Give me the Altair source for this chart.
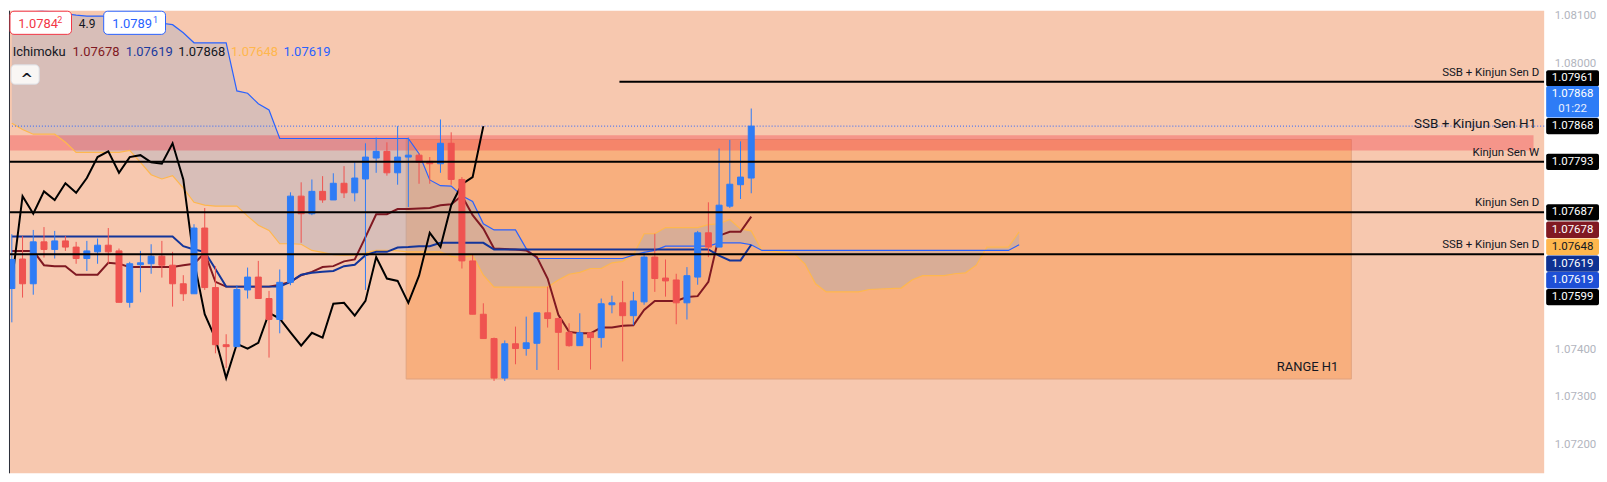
import altair as alt
import pandas as pd

# ---------------- data (EURUSD-like H1 candles, Ichimoku) ----------------
opens = [1.07527,1.07589,1.07537,1.07625,1.07609,1.07627,1.07614,1.07590,1.07604,1.07618,
         1.07606,1.07498,1.07577,1.07579,1.07595,1.07576,1.07537,1.07516,1.07654,1.07529,
         1.07409,1.07405,1.07524,1.07551,1.07506,1.07462,1.07540,1.07721,1.07684,1.07731,
         1.07713,1.07748,1.07728,1.07757,1.07801,1.07815,1.07770,1.07803,1.07807,1.07794,
         1.07789,1.07832,1.07756,1.07585,1.07473,1.07422,1.07339,1.07411,1.07401,1.07412,
         1.07476,1.07464,1.07435,1.07407,1.07434,1.07424,1.07493,1.07497,1.07470,1.07499,
         1.07593,1.07549,1.07545,1.07497,1.07551,1.07644,1.07614,1.07700,1.07745,1.07759]
highs = [1.07641,1.07637,1.07650,1.07656,1.07648,1.07637,1.07625,1.07627,1.07632,1.07654,
         1.07611,1.07583,1.07606,1.07620,1.07627,1.07604,1.07555,1.07662,1.07696,1.07574,
         1.07431,1.07534,1.07571,1.07585,1.07522,1.07567,1.07729,1.07750,1.07756,1.07763,
         1.07769,1.07784,1.07792,1.07832,1.07844,1.07834,1.07868,1.07844,1.07811,1.07803,
         1.07882,1.07855,1.07761,1.07598,1.07496,1.07424,1.07418,1.07447,1.07468,1.07476,
         1.07531,1.07466,1.07454,1.07475,1.07434,1.07506,1.07512,1.07543,1.07520,1.07604,
         1.07642,1.07588,1.07558,1.07572,1.07648,1.07708,1.07821,1.07839,1.07836,1.07905]
lows = [1.07456,1.07508,1.07514,1.07592,1.07590,1.07606,1.07579,1.07564,1.07579,1.07579,
        1.07498,1.07487,1.07519,1.07558,1.07550,1.07489,1.07501,1.07516,1.07524,1.07391,
        1.07360,1.07405,1.07506,1.07506,1.07382,1.07433,1.07534,1.07623,1.07681,1.07707,
        1.07713,1.07717,1.07710,1.07524,1.07770,1.07764,1.07745,1.07698,1.07747,1.07747,
        1.07770,1.07745,1.07569,1.07473,1.07422,1.07333,1.07333,1.07368,1.07386,1.07356,
        1.07445,1.07356,1.07405,1.07407,1.07357,1.07403,1.07475,1.07374,1.07450,1.07493,
        1.07520,1.07510,1.07452,1.07462,1.07535,1.07593,1.07614,1.07696,1.07715,1.07727]
closes = [1.07588,1.07537,1.07625,1.07609,1.07627,1.07614,1.07590,1.07606,1.07618,1.07604,
          1.07498,1.07579,1.07581,1.07595,1.07576,1.07537,1.07516,1.07654,1.07529,1.07409,
          1.07405,1.07525,1.07551,1.07506,1.07462,1.07540,1.07721,1.07684,1.07731,1.07713,
          1.07748,1.07728,1.07759,1.07803,1.07815,1.07770,1.07803,1.07807,1.07792,1.07789,
          1.07832,1.07756,1.07585,1.07473,1.07422,1.07339,1.07411,1.07401,1.07413,1.07476,
          1.07464,1.07435,1.07407,1.07434,1.07424,1.07495,1.07497,1.07470,1.07501,1.07593,
          1.07548,1.07543,1.07497,1.07554,1.07644,1.07614,1.07702,1.07746,1.07761,1.07868]

tenkan = [1.07606,1.07606,1.07606,1.07576,1.07574,1.07574,1.07556,1.07556,1.07556,1.07581,
          1.07579,1.07572,1.07572,1.07572,1.07572,1.07572,1.07576,1.07579,1.07602,1.07541,
          1.07531,1.07531,1.07531,1.07531,1.07531,1.07535,1.07541,1.07555,1.07562,1.07572,
          1.07574,1.07584,1.07588,1.07635,1.07683,1.07683,1.07694,1.07694,1.07695,1.07696,
          1.07702,1.07704,1.07722,1.07681,1.07653,1.07611,1.07610,1.07609,1.07607,1.07593,
          1.07548,1.07472,1.07436,1.07433,1.07433,1.07445,1.07445,1.07449,1.07450,1.07482,
          1.07501,1.07501,1.07501,1.07509,1.07511,1.07541,1.07638,1.07646,1.07646,1.07678]
kijun = [1.07636,1.07636,1.07636,1.07636,1.07636,1.07636,1.07636,1.07636,1.07636,1.07636,
         1.07636,1.07636,1.07636,1.07636,1.07636,1.07636,1.07616,1.07609,1.07604,1.07568,
         1.07531,1.07531,1.07531,1.07531,1.07531,1.07531,1.07541,1.07556,1.07560,1.07562,
         1.07564,1.07574,1.07577,1.07597,1.07604,1.07604,1.07613,1.07614,1.07616,1.07616,
         1.07623,1.07623,1.07623,1.07623,1.07623,1.07609,1.07609,1.07609,1.07609,1.07609,
         1.07609,1.07609,1.07609,1.07609,1.07609,1.07609,1.07609,1.07609,1.07609,1.07609,
         1.07609,1.07609,1.07609,1.07609,1.07609,1.07609,1.07596,1.07586,1.07586,1.07619]
# leading spans, already displaced forward (95 bar slots)
span_a = [1.07874,1.07861,1.07851,1.07851,1.07851,1.07834,1.07813,1.07813,1.07813,1.07813,
          1.07813,1.07817,1.07792,1.07766,1.07757,1.07764,1.07738,1.07708,1.07702,1.07700,
          1.07700,1.07700,1.07679,1.07660,1.07649,1.07621,1.07621,1.07620,1.07607,1.07603,
          1.07598,1.07597,1.07597,1.07602,1.07607,1.07607,1.07606,1.07604,1.07604,1.07604,
          1.07604,1.07595,1.07592,1.07597,1.07555,1.07530,1.07530,1.07530,1.07530,1.07530,
          1.07530,1.07545,1.07557,1.07561,1.07569,1.07569,1.07581,1.07584,1.07598,1.07642,
          1.07642,1.07655,1.07655,1.07655,1.07655,1.07661,1.07663,1.07672,1.07652,1.07648,
          1.07607,1.07605,1.07603,1.07600,1.07579,1.07537,1.07520,1.07520,1.07520,1.07520,
          1.07525,1.07526,1.07527,1.07528,1.07545,1.07554,1.07554,1.07554,1.07558,1.07560,
          1.07576,1.07614,1.07614,1.07614,1.07646]
span_b = [1.08122,1.08119,1.08114,1.08110,1.08107,1.08104,1.08101,1.08099,1.08099,1.08099,
          1.08097,1.08094,1.08090,1.08087,1.08084,1.08081,1.08064,1.08043,1.08043,1.08043,
          1.08043,1.07942,1.07937,1.07915,1.07902,1.07842,1.07842,1.07842,1.07842,1.07842,
          1.07842,1.07842,1.07842,1.07842,1.07842,1.07842,1.07842,1.07842,1.07810,1.07755,
          1.07743,1.07742,1.07722,1.07710,1.07663,1.07650,1.07650,1.07650,1.07611,1.07590,
          1.07590,1.07590,1.07590,1.07590,1.07590,1.07590,1.07590,1.07590,1.07597,1.07603,
          1.07607,1.07616,1.07616,1.07616,1.07616,1.07616,1.07623,1.07623,1.07623,1.07619,
          1.07607,1.07607,1.07607,1.07607,1.07607,1.07607,1.07607,1.07607,1.07607,1.07607,
          1.07607,1.07607,1.07607,1.07607,1.07607,1.07607,1.07607,1.07607,1.07607,1.07607,
          1.07607,1.07607,1.07607,1.07607,1.07619]
LAGGING_SHIFT = 25

level_prices = [1.07961, 1.07793, 1.07687, 1.07599]
level_starts = [56.7, None, None, None]
level_labels = ["SSB + Kinjun Sen D", "Kinjun Sen W", "Kinjun Sen D", "SSB + Kinjun Sen D"]
h1_label = "SSB + Kinjun Sen H1"

band_top, band_bottom, band_start, band_end = 1.07849, 1.07817, -5.0, 142.0
range_top, range_bottom, range_start, range_end = 1.07840, 1.07337, 36.8, 125.0
range_label = "RANGE H1"

tag_prices = [1.07961, 1.07868, 1.07793, 1.07687, 1.07678, 1.07648, 1.07619, 1.07619, 1.07599]
tag_fills = ["#000000", "#000000", "#000000", "#000000", "#801922", "#FFB74D", "#0E3192", "#1E4FD6", "#000000"]
tag_text_colors = ["#FFFFFF", "#FFFFFF", "#FFFFFF", "#FFFFFF", "#FFFFFF", "#131722", "#FFFFFF", "#FFFFFF", "#FFFFFF"]
countdown = "01:22"

# axis labels that are not hidden behind the price tags
y_ticks = [1.072, 1.073, 1.074, 1.080, 1.081]

# ---------------- layout / style ----------------
W, H = 1540, 464
X_DOM = [0.2, 142.53]
Y_DOM = [1.071391, 1.081103]
PX = (Y_DOM[1] - Y_DOM[0]) / H          # price per pixel
tag_shift_px = [-3.5, 0, 0, 0, 13.2, 15.9, 19.0, 35.6, 43.0]   # label collision offsets
countdown_shift_px = -24.5

UP, DOWN = "#2E7CF6", "#EF5350"
FONT = "Roboto"

xscale = alt.Scale(domain=X_DOM, nice=False, zero=False)
yscale = alt.Scale(domain=Y_DOM, nice=False, zero=False)
yaxis = alt.Axis(orient="right", values=y_ticks, format=".5f", labelColor="#B2B5BE",
                 labelFont=FONT, labelFontSize=11.5, ticks=False, domain=False, grid=False,
                 labelPadding=10, title=None)


def X(f):
    return alt.X(f, type="quantitative", scale=xscale, axis=None)


def Y(f):
    return alt.Y(f, type="quantitative", scale=yscale, axis=yaxis)


n = len(closes)
candles = pd.DataFrame({"i": list(range(n)), "open": opens, "high": highs, "low": lows, "close": closes})
ichi = pd.DataFrame({"i": list(range(n)), "tenkan": tenkan, "kijun": kijun})
cloud_df = pd.DataFrame({"i": list(range(len(span_a))), "a": span_a, "b": span_b})
lag_df = pd.DataFrame({"i": list(range(n - LAGGING_SHIFT)), "v": closes[LAGGING_SHIFT:]})
levels = pd.DataFrame({"p": level_prices, "start": level_starts, "label": level_labels})
levels["start"] = levels["start"].fillna(X_DOM[0] - 5)
price_df = pd.DataFrame({"p": [closes[-1]], "label": [h1_label]})
band_df = pd.DataFrame({"x0": [band_start], "x1": [band_end], "t": [band_top], "b": [band_bottom]})
range_df = pd.DataFrame({"x0": [range_start], "x1": [range_end], "t": [range_top], "b": [range_bottom],
                         "label": [range_label]})

tags = pd.DataFrame({"p": tag_prices, "fill": tag_fills, "tc": tag_text_colors, "shift": tag_shift_px})
tags["label"] = tags["p"].map(lambda v: f"{v:.5f}")
tags["disp"] = tags["p"] - tags["shift"] * PX
tags["top"] = tags["disp"] + 8.2 * PX
tags["bot"] = tags["disp"] - 8.2 * PX

cur = pd.DataFrame({"p": [closes[-1]]})
cur["label"] = cur["p"].map(lambda v: f"{v:.5f}")
cur["cd"] = countdown
cur["disp"] = cur["p"] - countdown_shift_px * PX
cur["top"] = cur["disp"] + 15.8 * PX
cur["bot"] = cur["disp"] - 15.8 * PX

cond = alt.condition("datum.close >= datum.open", alt.value(UP), alt.value(DOWN))

layers = []
# range box
layers.append(alt.Chart(range_df).mark_rect(fill="#F8AF7E", stroke="#E2A47F", strokeWidth=1).encode(
    x=X("x0"), x2="x1", y=Y("t"), y2="b"))
# kumo cloud
layers.append(alt.Chart(cloud_df).mark_area(color="#92AACD", opacity=0.3, clip=True).encode(
    x=X("i"), y=Y("a"), y2="b"))
# red zone band
layers.append(alt.Chart(band_df).mark_rect(fill="#F23645", opacity=0.35, clip=True).encode(
    x=X("x0"), x2="x1", y=Y("t"), y2="b"))
# leading spans
layers.append(alt.Chart(cloud_df).mark_line(color="#FFB74D", strokeWidth=1.2, clip=True).encode(x=X("i"), y=Y("a")))
layers.append(alt.Chart(cloud_df).mark_line(color="#2962FF", strokeWidth=1.2, clip=True).encode(x=X("i"), y=Y("b")))
# tenkan / kijun
layers.append(alt.Chart(ichi).mark_line(color="#801922", strokeWidth=2, clip=True).encode(x=X("i"), y=Y("tenkan")))
layers.append(alt.Chart(ichi).mark_line(color="#13359A", strokeWidth=2, clip=True).encode(x=X("i"), y=Y("kijun")))
# lagging span
layers.append(alt.Chart(lag_df).mark_line(color="#000000", strokeWidth=2, clip=True).encode(x=X("i"), y=Y("v")))
# current price dotted line
layers.append(alt.Chart(price_df).mark_rule(color="#2962FF", strokeWidth=1, strokeDash=[1, 2]).encode(
    x=alt.value(0), x2=alt.value(W), y=Y("p")))
# candles
layers.append(alt.Chart(candles).mark_rule(strokeWidth=1, clip=True).encode(
    x=X("i"), y=Y("low"), y2="high", color=cond))
layers.append(alt.Chart(candles).mark_bar(size=6, strokeWidth=1, clip=True).encode(
    x=X("i"), y=Y("open"), y2="close", fill=cond, stroke=cond))
# horizontal levels
layers.append(alt.Chart(levels).mark_rule(color="#000000", strokeWidth=2, clip=True).encode(
    x=X("start"), x2=alt.value(W), y=Y("p")))
layers.append(alt.Chart(levels).mark_text(align="right", baseline="alphabetic", dy=-6, font=FONT,
                                          fontSize=11.5, color="#131722").encode(
    x=alt.value(W - 5), y=Y("p"), text="label"))
layers.append(alt.Chart(price_df).mark_text(align="right", baseline="middle", dy=-2, font=FONT,
                                            fontSize=13.5, color="#131722").encode(
    x=alt.value(W - 8), y=Y("p"), text="label"))
layers.append(alt.Chart(range_df).mark_text(align="right", baseline="alphabetic", dx=-13, dy=-8, font=FONT,
                                            fontSize=13, color="#131722").encode(
    x=X("x1"), y=Y("b"), text="label"))
# price tags on the axis
layers.append(alt.Chart(tags).mark_rect(cornerRadius=2).encode(
    x=alt.value(W + 2), x2=alt.value(W + 55), y=Y("top"), y2="bot", fill=alt.Fill("fill:N", scale=None)))
layers.append(alt.Chart(tags).mark_text(align="center", baseline="middle", font=FONT, fontSize=11.5).encode(
    x=alt.value(W + 28.5), y=Y("disp"), text="label", color=alt.Color("tc:N", scale=None)))
layers.append(alt.Chart(cur).mark_rect(cornerRadius=2, fill=UP).encode(
    x=alt.value(W + 2), x2=alt.value(W + 55), y=Y("top"), y2="bot"))
layers.append(alt.Chart(cur).mark_text(align="center", baseline="middle", dy=-7.5, font=FONT, fontSize=11.5,
                                       color="#FFFFFF").encode(x=alt.value(W + 28.5), y=Y("disp"), text="label"))
layers.append(alt.Chart(cur).mark_text(align="center", baseline="middle", dy=7.5, font=FONT, fontSize=11.5,
                                       color="#E8EEFF").encode(x=alt.value(W + 28.5), y=Y("disp"), text="cd"))

# ---------------- top-left legend overlay ----------------
dummy = pd.DataFrame({"_": [0]})


def ui_rect(x, x2, y, y2, fill, stroke, r=4):
    return alt.Chart(dummy).mark_rect(fill=fill, stroke=stroke, strokeWidth=1, cornerRadius=r).encode(
        x=alt.value(x), x2=alt.value(x2), y=alt.value(y), y2=alt.value(y2))


def ui_text(t, x, y, color, size=13, font=FONT, weight="normal"):
    return alt.Chart(dummy).mark_text(text=t, align="left", baseline="alphabetic", font=font,
                                      fontSize=size, color=color, fontWeight=weight).encode(
        x=alt.value(x), y=alt.value(y))


layers.append(alt.Chart(dummy).mark_rule(color="#2A2E39", strokeWidth=1).encode(
    x=alt.value(0.5), y=alt.value(0), y2=alt.value(H)))
layers.append(ui_rect(1, 62.7, 0.5, 23.7, "#FFFFFF", "#F23645"))
layers.append(ui_text("1.0784", 9.3, 17.5, "#F23645", 13))
layers.append(ui_text("2", 48.3, 12.5, "#F23645", 9))
layers.append(ui_text("4.9", 70, 17.5, "#131722", 12))
layers.append(ui_rect(95, 157, 0.5, 23.7, "#FFFFFF", "#2962FF"))
layers.append(ui_text("1.0789", 103.7, 17.5, "#2962FF", 13))
layers.append(ui_text("1", 144.5, 12.5, "#2962FF", 9))
layers.append(ui_text("Ichimoku", 3.7, 45.5, "#131722", 13))
legend_vals = [(f"{tenkan[-1]:.5f}", 63.7, "#801922"), (f"{kijun[-1]:.5f}", 117, "#1A3A9E"),
               (f"{closes[-1]:.5f}", 169.7, "#131722"), (f"{span_a[n - 1]:.5f}", 222.7, "#FFB74D"),
               (f"{span_b[n - 1]:.5f}", 275.3, "#2962FF")]
for t, x, c in legend_vals:
    layers.append(ui_text(t, x, 45.5, c, 13))
layers.append(ui_rect(2, 30.3, 54.3, 73.7, "#F9F6F4", "#DADDE3"))
layers.append(ui_text("^", 11.5, 74, "#131722", 15, "DejaVu Sans", "bold"))

chart = alt.layer(*layers).properties(
    width=W, height=H, background="#FFFFFF", padding=0
).configure_view(fill="#F7C8AF", stroke=None)

chart.save("out.html", embed_options={"renderer": "svg", "actions": False})
